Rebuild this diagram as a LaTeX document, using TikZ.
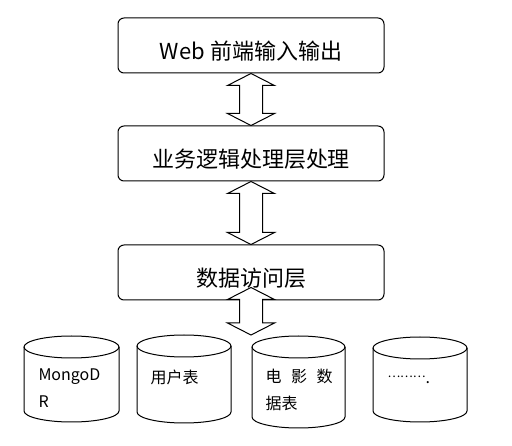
\documentclass[tikz,border=0pt]{standalone}
\usepackage{fontspec}
\setmainfont{Noto Sans CJK SC}
\usetikzlibrary{positioning,calc}

% double headed hollow arrow from top tip #1 to bottom tip #2
\newcommand\updown[2]{%
    \draw[fill=white] let \p1=(#1), \p2=(#2) in
        (\x1,\y1) -- (\x1+23.5,\y1-12) -- (\x1+11.5,\y1-12) -- (\x1+11.5,\y2+12)
        -- (\x1+23.5,\y2+12) -- (\x2,\y2) -- (\x1-23.5,\y2+12) -- (\x1-11.5,\y2+12)
        -- (\x1-11.5,\y1-12) -- (\x1-23.5,\y1-12) -- cycle;
}
% database cylinder: name, center, half width, half height
\newcommand\dbcyl[4]{%
    \begin{scope}[shift={#2}]
        \draw[fill=white] (-#3,#4-11) -- (-#3,-#4+11)
            arc[start angle=180,end angle=360,x radius=#3,y radius=11] -- (#3,#4-11);
        \draw (0,#4-11) ellipse [x radius=#3,y radius=11];
        \coordinate (#1) at (0,#4);
    \end{scope}
}

\begin{document}
\begin{tikzpicture}[x=1pt,y=1pt,line width=1pt]
    % Styles
    \tikzstyle{layer box} = [draw,rounded corners=6pt,minimum width=266pt,minimum height=55pt,
        inner sep=0pt,text height=29pt,text depth=0pt,font=\fontsize{22pt}{26pt}\selectfont]
    \tikzstyle{db text} = [anchor=west,align=left,inner sep=0pt,
        font=\fontsize{16pt}{27pt}\selectfont]

    \useasboundingbox (0,0) rectangle (512,445);

    %%% Layers
    \node[layer box] (web) at (251,399.5) {Web 前端输入输出};
    \node[layer box,below=52pt of web] (logic) {业务逻辑处理层处理};
    \node[layer box,below=63pt of logic] (data) {数据访问层};
    %%%

    %%% Databases
    \dbcyl{mongo}{(71.5,66)}{47.5}{43}
    \dbcyl{users}{(184,66)}{47}{44}
    \dbcyl{movies}{(298.5,63)}{46.5}{46}
    \dbcyl{more}{(420,65.5)}{47}{42.5}

    \node[db text] (mongo text) at (38,56.5) {MongoD\\R};
    \node[db text] (users text) at (150,68) {用户表};
    \node[db text] (movies text) at (265,55) {{\spaceskip=.6em 电 影 数}\\据表};
    \node[db text] (more text) at (387,65)
        {{\fontsize{12pt}{12pt}\selectfont\raisebox{6pt}{………}}.};
    %%%

    %%% Arrows
    \updown{web.south}{logic.north}
    \updown{logic.south}{data.north}
    \coordinate (data tip) at ($(data.south)+(0,13)$);
    \coordinate (db tip) at (data.south |- 0,110);
    \updown{data tip}{db tip}
    %%%
\end{tikzpicture}
\end{document}
